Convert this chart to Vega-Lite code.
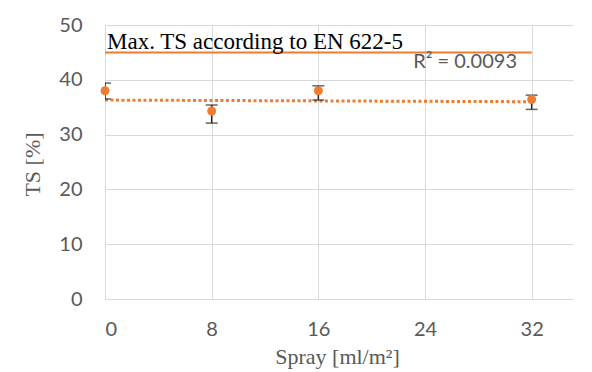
{
  "$schema": "https://vega.github.io/schema/vega-lite/v6.json",
  "width": 468,
  "height": 274,
  "autosize": {"type": "none"},
  "padding": {"left": 105, "top": 25, "right": 19, "bottom": 73},
  "background": "white",
  "config": {
    "view": {"stroke": null},
    "axis": {
      "labelFont": "Lato",
      "labelFontSize": 20,
      "labelColor": "#595959",
      "titleFont": "Liberation Serif",
      "titleFontSize": 22,
      "titleFontWeight": "normal",
      "titleColor": "#595959",
      "gridColor": "#d9d9d9",
      "gridWidth": 1,
      "ticks": false,
      "domainColor": "#d9d9d9",
      "domainWidth": 1
    }
  },
  "datasets": {
    "points": [
      {"spray": 0, "ts": 38.0, "lo": 36.5, "hi": 39.4},
      {"spray": 8, "ts": 34.3, "lo": 32.1, "hi": 35.4},
      {"spray": 16, "ts": 38.0, "lo": 36.3, "hi": 38.9},
      {"spray": 32, "ts": 36.4, "lo": 34.6, "hi": 37.2}
    ],
    "trend": [
      {"spray": 0, "ts": 36.3},
      {"spray": 32, "ts": 36.0}
    ],
    "limit": [
      {"x": 0, "x2": 32, "y": 45, "label": "Max. TS according to EN 622-5"}
    ],
    "r2": [
      {"x": 30.9, "y": 42.2, "label": "R² = 0.0093"}
    ]
  },
  "encoding": {
    "x": {
      "type": "quantitative",
      "scale": {"domain": [0, 35.1], "nice": false, "zero": false},
      "axis": {
        "title": "Spray [ml/m²]",
        "values": [0, 8, 16, 24, 32],
        "labelPadding": 20,
        "titleX": 232,
        "titleY": 64,
        "titleBaseline": "alphabetic"
      }
    },
    "y": {
      "type": "quantitative",
      "scale": {"domain": [0, 50], "nice": false},
      "axis": {
        "title": "TS [%]",
        "values": [0, 10, 20, 30, 40, 50],
        "domain": false,
        "labelPadding": 23,
        "titleX": -73,
        "titleY": 139,
        "titleAngle": -90,
        "titleAlign": "center",
        "titleBaseline": "middle"
      }
    }
  },
  "layer": [
    {
      "data": {"name": "limit"},
      "mark": {"type": "rule", "color": "#ED7D31", "strokeWidth": 2},
      "encoding": {
        "x": {"field": "x"},
        "x2": {"field": "x2"},
        "y": {"field": "y"}
      }
    },
    {
      "data": {"name": "trend"},
      "mark": {"type": "line", "color": "#ED7D31", "strokeWidth": 3, "strokeDash": [3, 2.5]},
      "encoding": {
        "x": {"field": "spray"},
        "y": {"field": "ts"}
      }
    },
    {
      "data": {"name": "points"},
      "mark": {"type": "rule", "color": "#262626", "strokeWidth": 1.5, "clip": true},
      "encoding": {
        "x": {"field": "spray"},
        "y": {"field": "lo"},
        "y2": {"field": "hi"}
      }
    },
    {
      "data": {"name": "points"},
      "mark": {"type": "tick", "orient": "horizontal", "color": "#262626", "size": 12, "thickness": 1.5, "clip": true},
      "encoding": {
        "x": {"field": "spray"},
        "y": {"field": "lo"}
      }
    },
    {
      "data": {"name": "points"},
      "mark": {"type": "tick", "orient": "horizontal", "color": "#262626", "size": 12, "thickness": 1.5, "clip": true},
      "encoding": {
        "x": {"field": "spray"},
        "y": {"field": "hi"}
      }
    },
    {
      "data": {"name": "points"},
      "mark": {"type": "point", "filled": true, "opacity": 1, "color": "#ED7D31", "size": 80},
      "encoding": {
        "x": {"field": "spray"},
        "y": {"field": "ts"}
      }
    },
    {
      "data": {"name": "limit"},
      "mark": {"type": "text", "font": "Liberation Serif", "fontSize": 23, "color": "#000000", "align": "left", "baseline": "alphabetic", "dx": 2, "dy": -3},
      "encoding": {
        "x": {"field": "x"},
        "y": {"field": "y"},
        "text": {"field": "label"}
      }
    },
    {
      "data": {"name": "r2"},
      "mark": {"type": "text", "font": "Lato", "fontSize": 20, "color": "#595959", "align": "right", "baseline": "alphabetic"},
      "encoding": {
        "x": {"field": "x"},
        "y": {"field": "y"},
        "text": {"field": "label"}
      }
    }
  ]
}
